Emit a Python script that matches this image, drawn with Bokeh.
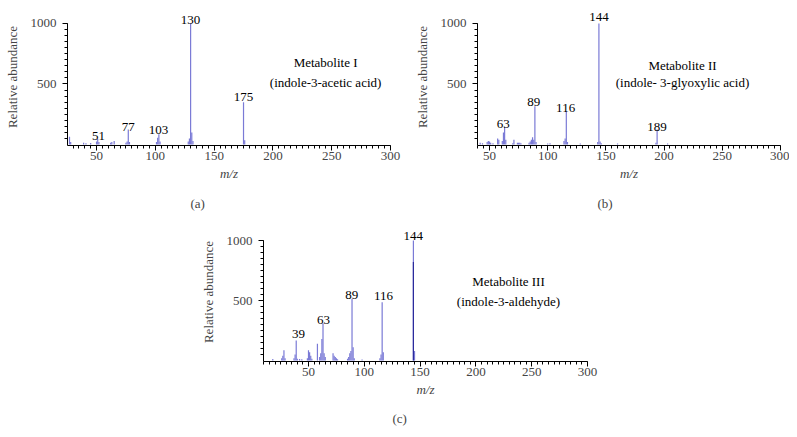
from bokeh.plotting import figure
from bokeh.models import Range1d, FixedTicker, Title, Spacer
from bokeh.layouts import row, column
from bokeh.embed import file_html
from bokeh.resources import INLINE
from bokeh.core.properties import value

# ---------------- data ----------------
# Metabolite I (indole-3-acetic acid)
mz_a = [27, 28, 39, 41, 45, 50, 51, 52, 62, 63, 65, 75, 76, 77, 78,
        101, 102, 103, 104, 128, 129, 130, 131, 132, 175, 176]
int_a = [65, 20, 15, 10, 12, 25, 45, 20, 15, 20, 30, 15, 25, 125, 20,
         20, 55, 85, 25, 25, 50, 1000, 100, 30, 350, 35]
lab_mz_a = [51.7, 77, 102.6, 130, 175]
lab_int_a = [74, 145, 123, 1030, 396]
lab_txt_a = ["51", "77", "103", "130", "175"]

# Metabolite II (indole-3-glyoxylic acid)
mz_b = [42, 44, 48, 49, 50, 51, 53, 57, 58, 61, 62, 63, 64, 70, 71, 74, 75, 76,
        77, 84, 85, 86, 87, 88, 89, 90, 100, 102, 114, 115, 116, 117, 128,
        143, 144, 145, 146, 160, 193, 194, 203]
int_b = [15, 10, 20, 30, 25, 15, 10, 50, 40, 30, 100, 145, 40, 10, 40, 15, 15, 15,
         10, 15, 25, 40, 60, 40, 315, 20, 8, 10, 30, 50, 275, 20, 8,
         20, 1000, 25, 10, 8, 15, 125, 8]
lab_mz_b = [61.8, 88, 115.4, 144, 194]
lab_int_b = [170, 353, 301, 1052, 145]
lab_txt_b = ["63", "89", "116", "144", "189"]

# Metabolite III (indole-3-aldehyde)
mz_c = [18, 26, 27, 28, 29, 37, 38, 39, 40, 42, 44, 49, 50, 51, 52, 53, 58,
        60, 61, 62, 63, 64, 65, 72, 73, 74, 75, 76, 85, 86, 87, 88, 89, 90,
        91, 98, 114, 115, 116, 117, 144, 145]
int_c = [12, 20, 40, 85, 20, 20, 50, 167, 15, 12, 10, 20, 85, 70, 40, 15, 140,
         30, 60, 180, 310, 60, 30, 60, 40, 30, 20, 10, 15, 30, 60, 80, 515, 110,
         20, 8, 20, 50, 485, 70, 1000, 80]
mz_c_dark = [144]
int_c_dark = [820]
lab_mz_c = [41, 63.4, 88.8, 117.2, 143.9]
lab_int_c = [223, 340, 550, 534, 1034]
lab_txt_c = ["39", "63", "89", "116", "144"]

x_major = [50, 100, 150, 200, 250, 300]
y_major = [500, 1000]

FONT = "Liberation Serif"
PEAK = "#7a7ad6"
DARK = "#2b2b9c"


def panel(mz, inten, lx, ly, lt, name, sub, tag, xstart, yr, width, height,
          bl, br, bt, bb, ann_x, ann_y1, ann_y2, tag_offset, tag_standoff):
    p = figure(width=width, height=height, x_range=Range1d(xstart, 300),
               y_range=Range1d(*yr), output_backend="svg", toolbar_location=None,
               title=None, min_border_left=bl, min_border_right=br,
               min_border_top=bt, min_border_bottom=bb)
    p.outline_line_color = None
    p.grid.visible = False
    p.background_fill_color = "white"
    p.border_fill_color = "white"
    p.segment(x0=mz, y0=[0] * len(mz), x1=mz, y1=inten,
              line_color=PEAK, line_width=1.2)
    p.text(x=lx, y=ly, text=lt, text_font=value(FONT), text_font_size="13px",
           text_align="center", text_baseline="alphabetic", text_color="black")
    p.text(x=[ann_x, ann_x], y=[ann_y1, ann_y2], text=[name, sub],
           text_font=value(FONT), text_font_size="13px", text_align="center",
           text_baseline="middle", text_color="black")

    xa = p.xaxis[0]
    first = int(xstart // 5 + 1) * 5
    xa.ticker = FixedTicker(ticks=x_major, minor_ticks=list(range(first, 301, 5)))
    xa.bounds = (xstart, 300)
    xa.axis_label = "m/z"
    xa.axis_label_text_font_style = "italic"
    xa.axis_label_text_font = FONT
    xa.axis_label_text_font_size = "13px"
    xa.axis_label_standoff = 3
    xa.major_label_text_font = FONT
    xa.major_label_text_font_size = "13px"
    xa.major_label_standoff = 1
    xa.major_tick_in = 0
    xa.major_tick_out = 5
    xa.minor_tick_in = 0
    xa.minor_tick_out = 3

    ya = p.yaxis[0]
    ya.ticker = FixedTicker(ticks=y_major, minor_ticks=list(range(50, 1001, 50)))
    ya.bounds = (yr[0], 1000)
    ya.axis_label = "Relative abundance"
    ya.axis_label_text_font_style = "normal"
    ya.axis_label_text_font = FONT
    ya.axis_label_text_font_size = "13px"
    ya.axis_label_standoff = 8
    ya.major_label_text_font = FONT
    ya.major_label_text_font_size = "13px"
    ya.major_label_standoff = 6
    ya.major_tick_in = 0
    ya.major_tick_out = 5
    ya.minor_tick_in = 0
    ya.minor_tick_out = 3

    t = Title(text=tag, align="left", offset=tag_offset, text_font=FONT,
              text_font_size="13px", text_font_style="normal", standoff=tag_standoff)
    p.add_layout(t, "below")
    return p


pa = panel(mz_a, int_a, lab_mz_a, lab_int_a, lab_txt_a, "Metabolite I",
           "(indole-3-acetic acid)", "(a)", 25.3, (-8, 1123), 408, 220,
           67, 18, 8, 74, 244.8, 680, 516, 123, 20)
pb = panel(mz_b, int_b, lab_mz_b, lab_int_b, lab_txt_b, "Metabolite II",
           "(indole- 3-glyoxylic acid)", "(b)", 39.7, (-8, 1123), 381, 220,
           69, 9, 8, 74, 215.8, 656, 516, 120, 20)
pc = panel(mz_c, int_c, lab_mz_c, lab_int_c, lab_txt_c, "Metabolite III",
           "(indole-3-aldehyde)", "(c)", 9.68, (-8, 1150), 410, 217,
           68, 18, 2, 76, 229.2, 659, 492, 129, 18)
pc.segment(x0=mz_c_dark, y0=[0] * len(mz_c_dark), x1=mz_c_dark, y1=int_c_dark,
           line_color=DARK, line_width=1.2)

layout = column(row(pa, pb), row(Spacer(width=195, height=217), pc))
open("out.html", "w").write(file_html(layout, INLINE))
